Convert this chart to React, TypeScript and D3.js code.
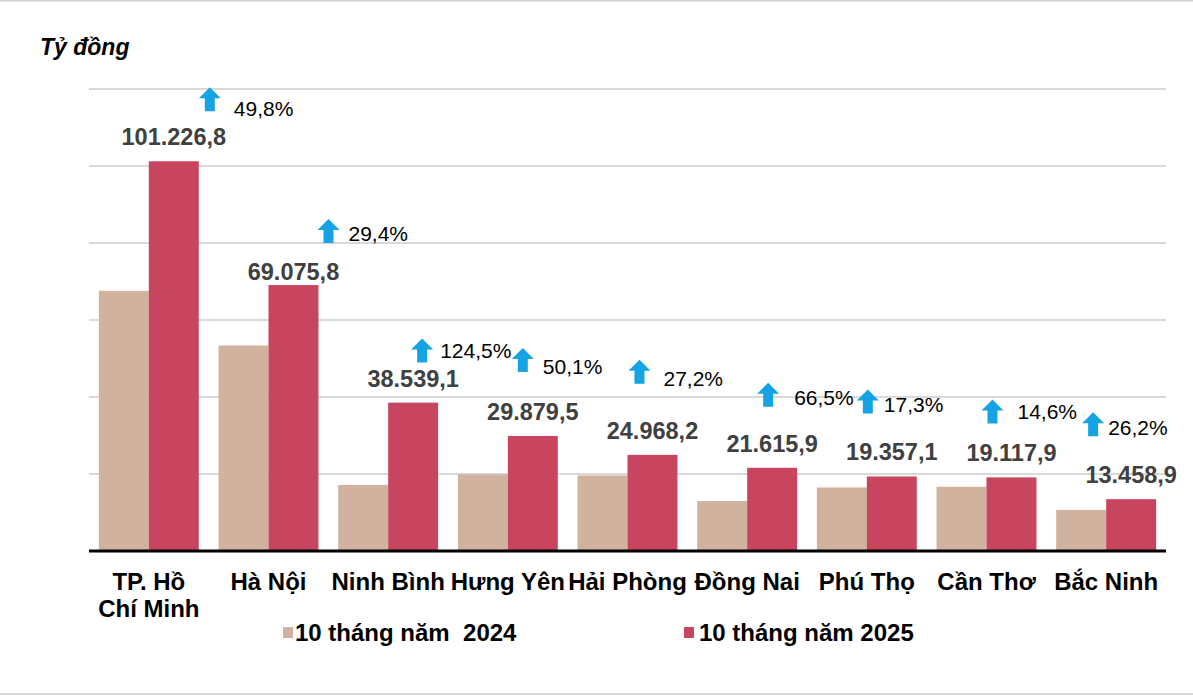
import React from "react";
import * as d3 from "d3";

const categories = ["TP. Hồ Chí Minh", "Hà Nội", "Ninh Bình", "Hưng Yên", "Hải Phòng", "Đồng Nai", "Phú Thọ", "Cần Thơ", "Bắc Ninh"];
const categoryLines = [["TP. Hồ", "Chí Minh"], ["Hà Nội"], ["Ninh Bình"], ["Hưng Yên"], ["Hải Phòng"], ["Đồng Nai"], ["Phú Thọ"], ["Cần Thơ"], ["Bắc Ninh"]];
const values2024 = [67574, 53382, 17167, 19906, 19629, 12983, 16502, 16682, 10665];
const values2025 = [101226.8, 69075.8, 38539.1, 29879.5, 24968.2, 21615.9, 19357.1, 19117.9, 13458.9];
const labels2025 = ["101.226,8", "69.075,8", "38.539,1", "29.879,5", "24.968,2", "21.615,9", "19.357,1", "19.117,9", "13.458,9"];
const growthLabels = ["49,8%", "29,4%", "124,5%", "50,1%", "27,2%", "66,5%", "17,3%", "14,6%", "26,2%"];
const seriesNames = ["10 tháng năm  2024", "10 tháng năm 2025"];
const yTicks = [20000, 40000, 60000, 80000, 100000, 120000];
const unitLabel = "Tỷ đồng";

// layout (annotation placement relative to the 2025 bar top)
const arrowNudge: [number, number][] = [
  [36, -62], [35, -54], [9, -52], [-10, -76], [-13, -83], [-4, -73], [-24, -75], [-19, -66], [-38, -75],
];
const pctNudge: [number, number][] = [
  [24, 17], [20, 10], [18, 7], [20, 14], [24, 14], [26, 10], [16, 11], [25, 8], [15, 11],
];
const valueNudge = [0, 11, 0, 0, 0, 0, 0, 0, 0];

const W = 1193, H = 697;
const left = 89, right = 1166, baseY = 551, topY = 89;
const c2024 = "#d1b29e";
const c2025 = "#c8455f";
const arrowColor = "#15a3e3";
const font = "'Liberation Sans', Arial, sans-serif";

export default function App() {
  const x = d3.scaleBand<string>().domain(categories).range([left, right]).paddingInner(0.165).paddingOuter(0.0825);
  const x1 = d3.scaleBand<string>().domain(["2024", "2025"]).range([0, x.bandwidth()]);
  const y = d3.scaleLinear().domain([0, 120000]).range([baseY, topY]);

  const arrowPath = "M0,-12 L11,-1 L5,-1 L5,12 L-5,12 L-5,-1 L-11,-1 Z";

  return (
    <svg width={W} height={H} style={{ position: "absolute", left: 0, top: 0, background: "#fff" }} fontFamily={font}>
      <rect x={0} y={0} width={W} height={H} fill="#fff" />
      <line x1={0} x2={W} y1={0.5} y2={0.5} stroke="#d0d0d0" strokeWidth={2} />
      <line x1={0} x2={W} y1={694} y2={694} stroke="#d8d8d8" strokeWidth={2} />
      <text x={40} y={55} fontSize={23} fontWeight="bold" fontStyle="italic" fill="#000">{unitLabel}</text>
      {yTicks.map((t) => (
        <line key={t} x1={left} x2={right} y1={y(t)} y2={y(t)} stroke="#d9d9d9" strokeWidth={2} />
      ))}
      {categories.map((c, i) => {
        const gx = x(c)!;
        const bw = x1.bandwidth();
        const cx25 = gx + x1("2025")! + bw / 2;
        const top25 = y(values2025[i]);
        const ax = cx25 + arrowNudge[i][0];
        const ay = top25 + arrowNudge[i][1];
        return (
          <g key={c}>
            <rect x={gx + x1("2024")!} y={y(values2024[i])} width={bw} height={baseY - y(values2024[i])} fill={c2024} />
            <rect x={gx + x1("2025")!} y={top25} width={bw} height={baseY - top25} fill={c2025} />
            <text x={cx25} y={top25 - 16 + valueNudge[i]} textAnchor="middle" fontSize={23.5} fontWeight="bold" fill="#404040">{labels2025[i]}</text>
            <path d={arrowPath} transform={`translate(${ax},${ay})`} fill={arrowColor} />
            <text x={ax + pctNudge[i][0]} y={ay + pctNudge[i][1]} fontSize={21} fill="#000">{growthLabels[i]}</text>
            {categoryLines[i].map((ln, k) => (
              <text key={k} x={gx + x.bandwidth() / 2} y={590 + k * 27} textAnchor="middle" fontSize={24} fontWeight="bold" fill="#000">{ln}</text>
            ))}
          </g>
        );
      })}
      <line x1={left} x2={right} y1={baseY} y2={baseY} stroke="#000" strokeWidth={3} />
      <rect x={283} y={627} width={10} height={11} fill={c2024} />
      <text x={295} y={641} fontSize={24} fontWeight="bold" fill="#000" style={{ whiteSpace: "pre" }}>{seriesNames[0]}</text>
      <rect x={684} y={627} width={10} height={11} fill={c2025} />
      <text x={699} y={641} fontSize={24} fontWeight="bold" fill="#000">{seriesNames[1]}</text>
    </svg>
  );
}
